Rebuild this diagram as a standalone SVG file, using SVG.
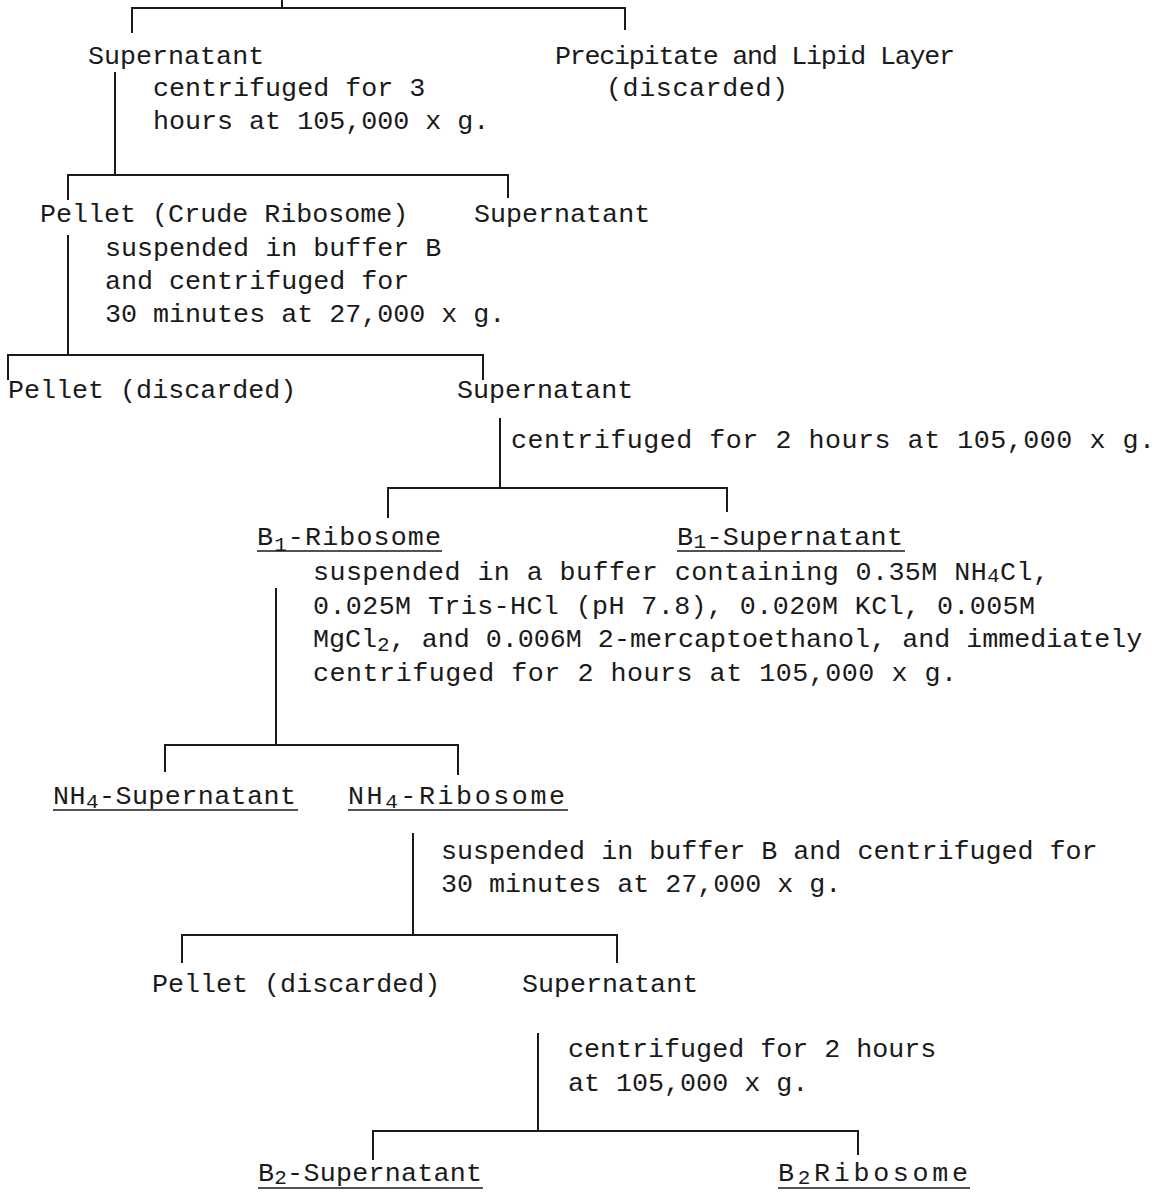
<svg xmlns="http://www.w3.org/2000/svg" width="1170" height="1192" viewBox="0 0 1170 1192">
<style>
text{font-family:"Liberation Mono","Courier New",monospace;font-size:26.7px;fill:#1a1a1a}
.sub{font-size:21px}
.c line{stroke:#1a1a1a;stroke-width:2;fill:none}
.u{stroke:#1a1a1a;stroke-width:1.6}
</style>
<rect width="1170" height="1192" fill="#fff"/>
<g class="c" id="connectors">
<line x1="282" y1="0" x2="282" y2="8"/>
<line x1="131" y1="8" x2="626" y2="8"/>
<line x1="132" y1="8" x2="132" y2="33"/>
<line x1="625" y1="8" x2="625" y2="30"/>
<line x1="115" y1="72" x2="115" y2="175"/>
<line x1="67" y1="175" x2="509" y2="175"/>
<line x1="68" y1="175" x2="68" y2="200"/>
<line x1="508" y1="175" x2="508" y2="198"/>
<line x1="68" y1="235" x2="68" y2="355"/>
<line x1="7" y1="355" x2="484" y2="355"/>
<line x1="8" y1="355" x2="8" y2="380"/>
<line x1="483" y1="355" x2="483" y2="380"/>
<line x1="500" y1="418" x2="500" y2="488"/>
<line x1="387" y1="488" x2="728" y2="488"/>
<line x1="388" y1="488" x2="388" y2="518"/>
<line x1="727" y1="488" x2="727" y2="512"/>
<line x1="276" y1="588" x2="276" y2="745"/>
<line x1="164" y1="745" x2="459" y2="745"/>
<line x1="165" y1="745" x2="165" y2="772"/>
<line x1="458" y1="745" x2="458" y2="775"/>
<line x1="413" y1="833" x2="413" y2="935"/>
<line x1="181" y1="935" x2="618" y2="935"/>
<line x1="182" y1="935" x2="182" y2="963"/>
<line x1="617" y1="935" x2="617" y2="963"/>
<line x1="538" y1="1033" x2="538" y2="1131"/>
<line x1="372" y1="1131" x2="859" y2="1131"/>
<line x1="373" y1="1131" x2="373" y2="1160"/>
<line x1="858" y1="1131" x2="858" y2="1155"/>
</g>
<g id="n1"><text x="88" y="64">Supernatant</text></g>
<g id="n2"><text x="555" y="64" textLength="400">Precipitate and Lipid Layer</text><text x="606" y="96" textLength="182">(discarded)</text></g>
<g id="s1"><text x="153" y="96">centrifuged for 3</text><text x="153" y="129">hours at 105,000 x g.</text></g>
<g id="n3"><text x="40" y="222">Pellet (Crude Ribosome)</text></g>
<g id="n4"><text x="474" y="222">Supernatant</text></g>
<g id="s2"><text x="105" y="256">suspended in buffer B</text><text x="105" y="289">and centrifuged for</text><text x="105" y="322">30 minutes at 27,000 x g.</text></g>
<g id="n5"><text x="8" y="398">Pellet (discarded)</text></g>
<g id="n6"><text x="457" y="398">Supernatant</text></g>
<g id="s3"><text x="511" y="448" textLength="644">centrifuged for 2 hours at 105,000 x g.</text></g>
<g id="n7"><text x="257" y="545" textLength="184">B<tspan class="sub" dy="6">1</tspan><tspan dy="-6">-Ribosome</tspan></text><line class="u" x1="257" y1="551" x2="442" y2="551"/></g>
<g id="n8"><text x="677" y="545" textLength="226">B<tspan class="sub" dy="3">1</tspan><tspan dy="-3">-Supernatant</tspan></text><line class="u" x1="677" y1="551" x2="905" y2="551"/></g>
<g id="s4"><text x="313" y="580" textLength="736">suspended in a buffer containing 0.35M NH<tspan class="sub" dy="2">4</tspan><tspan dy="-2">Cl,</tspan></text><text x="313" y="614" textLength="722">0.025M Tris-HCl (pH 7.8), 0.020M KCl, 0.005M</text><text x="313" y="647">MgCl<tspan class="sub" dy="4">2</tspan><tspan dy="-4">, and 0.006M 2-mercaptoethanol, and immediately</tspan></text><text x="313" y="681" textLength="644">centrifuged for 2 hours at 105,000 x g.</text></g>
<g id="n9"><text x="53" y="804" textLength="243">NH<tspan class="sub" dy="4">4</tspan><tspan dy="-4">-Supernatant</tspan></text><line class="u" x1="53" y1="810" x2="298" y2="810"/></g>
<g id="n10"><text x="348" y="804" textLength="217">NH<tspan class="sub" dy="4">4</tspan><tspan dy="-4">-Ribosome</tspan></text><line class="u" x1="348" y1="810" x2="568" y2="810"/></g>
<g id="s5"><text x="441" y="859">suspended in buffer B and centrifuged for</text><text x="441" y="892">30 minutes at 27,000 x g.</text></g>
<g id="n11"><text x="152" y="992">Pellet (discarded)</text></g>
<g id="n12"><text x="522" y="992">Supernatant</text></g>
<g id="s6"><text x="568" y="1057">centrifuged for 2 hours</text><text x="568" y="1091">at 105,000 x g.</text></g>
<g id="n13"><text x="258" y="1181" textLength="224">B<tspan class="sub" dy="3">2</tspan><tspan dy="-3">-Supernatant</tspan></text><line class="u" x1="258" y1="1188" x2="483" y2="1188"/></g>
<g id="n14"><text x="778" y="1181" textLength="190">B<tspan class="sub" dy="3">2</tspan><tspan dy="-3">Ribosome</tspan></text><line class="u" x1="778" y1="1188" x2="970" y2="1188"/></g>
</svg>
